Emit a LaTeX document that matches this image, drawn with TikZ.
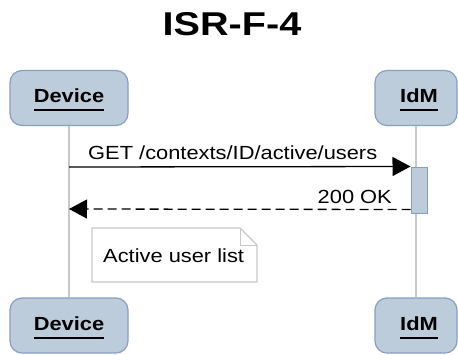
\documentclass[tikz,border=0pt]{standalone}
\usepackage{fontspec}
\setmainfont{Liberation Sans}
\usepackage{graphicx}
\usetikzlibrary{arrows.meta}
\definecolor{boxfill}{RGB}{188,204,219}
\definecolor{boxline}{RGB}{135,158,195}
\definecolor{lifegray}{RGB}{200,200,200}
\definecolor{notegray}{RGB}{200,200,200}
\newcommand{\stretchtxt}[1]{\scalebox{1.15}[1]{#1}}
\begin{document}
\begin{tikzpicture}[x=1pt,y=-1pt,
  actor/.style={draw=boxline, fill=boxfill, rounded corners=12pt, line width=1.2pt, minimum height=55pt, inner sep=0pt},
  lbl/.style={inner sep=0pt, font=\fontsize{19}{19}\selectfont},
  actlbl/.style={inner sep=0pt, font=\fontsize{19}{19}\selectfont\bfseries},
  uline/.style={line width=1.6pt},
  life/.style={draw=lifegray, line width=1.3pt},
  actbox/.style={draw=boxline, fill=boxfill, line width=1pt, minimum width=16pt, minimum height=46pt, inner sep=0pt},
  msg/.style={line width=1.3pt, -{Triangle[length=18pt,width=19pt]}},
  ret/.style={msg, dash pattern=on 9pt off 5pt},
  notebox/.style={draw=notegray, fill=white, line width=1.2pt}]
\useasboundingbox (0,0) rectangle (458,354);

\node[anchor=base, inner sep=0pt, font=\fontsize{33}{33}\selectfont\bfseries] (title) at (232,35) {\scalebox{1.2}[1]{ISR-F-4}};

\node[actor, minimum width=118pt] (dev1) at (69,98) {};
\node[actor, minimum width=82pt] (idm1) at (416,98) {};
\node[actor, minimum width=118pt] (dev2) at (69,325.5) {};
\node[actor, minimum width=82pt] (idm2) at (416,325.5) {};

\node[actlbl, anchor=base] (dev1t) at (69,102) {\stretchtxt{Device}};
\node[actlbl, anchor=base] (idm1t) at (419,102) {\stretchtxt{IdM}};
\node[actlbl, anchor=base] (dev2t) at (69,330) {\stretchtxt{Device}};
\node[actlbl, anchor=base] (idm2t) at (419,330) {\stretchtxt{IdM}};
\foreach \n in {dev1t,idm1t,dev2t,idm2t}
  \draw[uline] ([yshift=-8pt]\n.base west) -- ([yshift=-8pt]\n.base east);

\draw[life] (dev1) -- (dev2);
\draw[life] (idm1) -- (idm2);

\node[actbox] (act) at (419,190) {};

\coordinate (d1) at (69,167);
\coordinate (d2) at (69,209);
\draw[msg] (d1) -- (act.north west);
\node[lbl, anchor=base west] (getl) at (88,159) {\stretchtxt{GET /contexts/ID/active/users}};
\draw[ret] ([yshift=4pt]act.south west) -- (d2);
\node[lbl, anchor=base east] (okl) at (392,203) {\stretchtxt{200 OK}};

\draw[notebox] (92,228) -- (240,228) -- (257,245) -- (257,282) -- (92,282) -- cycle;
\draw[draw=notegray, line width=1pt] (240,228) -- (240,245) -- (257,245);
\node[lbl, anchor=base west] (notet) at (103,262) {\stretchtxt{Active user list}};
\end{tikzpicture}
\end{document}
